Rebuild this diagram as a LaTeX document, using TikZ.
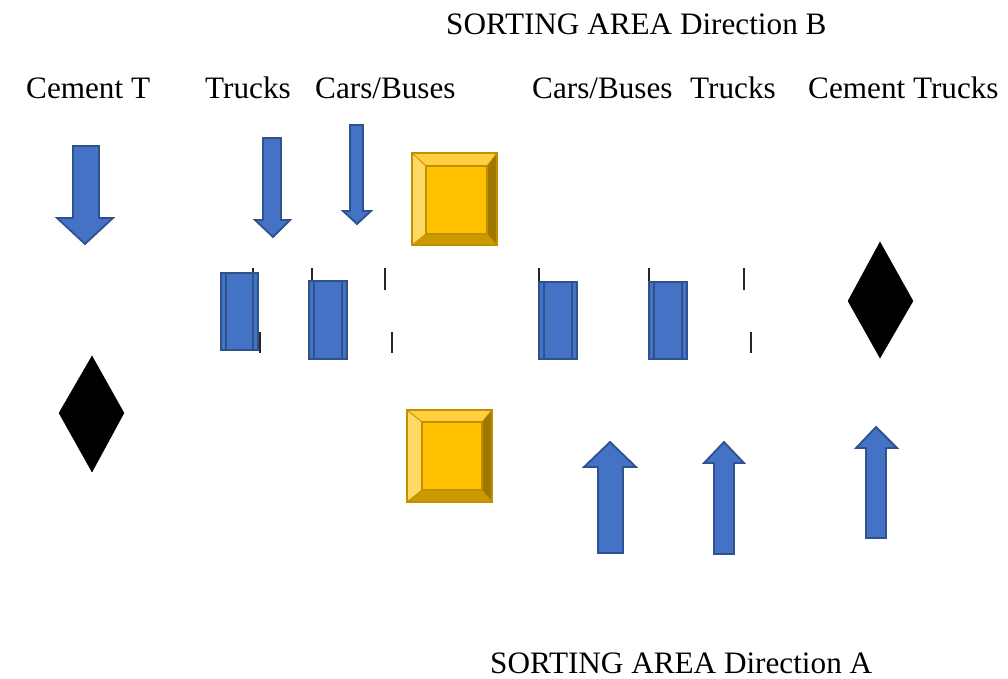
\documentclass[tikz,border=0pt]{standalone}
\usepackage{fontspec}
\setmainfont{Liberation Serif}
\definecolor{abfill}{HTML}{4472C4}
\definecolor{abdraw}{HTML}{2F528F}
\definecolor{ygold}{HTML}{FFC000}
\definecolor{ylight}{HTML}{FFD966}
\definecolor{ytop}{HTML}{FFCF40}
\definecolor{ydark}{HTML}{9E7700}
\definecolor{ybot}{HTML}{CC9A00}
\definecolor{yedge}{HTML}{BF9000}
\tikzset{
  lbl/.style={inner sep=0pt, anchor=base west, font=\fontsize{31.2}{34}\selectfont},
  blockarrow/.style={fill=abfill, draw=abdraw, line width=1.8pt, line join=miter},
  bar/.style={fill=abfill, draw=abdraw, line width=1.8pt},
  barline/.style={draw=abdraw, line width=1.2pt},
  tick/.style={draw=black!85, line width=1.6pt},
  dia/.style={fill=black, draw=black},
}
\newcommand{\bevelbox}[8]{%
  \fill[ytop] (#1,#2) -- (#3,#2) -- (#7,#6) -- (#5,#6) -- cycle;
  \fill[ylight] (#1,#2) -- (#5,#6) -- (#5,#8) -- (#1,#4) -- cycle;
  \fill[ydark] (#3,#2) -- (#3,#4) -- (#7,#8) -- (#7,#6) -- cycle;
  \fill[ybot] (#1,#4) -- (#5,#8) -- (#7,#8) -- (#3,#4) -- cycle;
  \fill[ygold] (#5,#6) rectangle (#7,#8);
  \draw[yedge, line width=1.2pt] (#1,#2) rectangle (#3,#4);
  \draw[yedge, line width=1.2pt] (#5,#6) rectangle (#7,#8);
  \draw[yedge, line width=0.8pt] (#1,#2) -- (#5,#6) (#3,#2) -- (#7,#6) (#1,#4) -- (#5,#8) (#3,#4) -- (#7,#8);
}
\begin{document}
\begin{tikzpicture}[x=1pt, y=-1pt]
\useasboundingbox (0,0) rectangle (1008,679);

% labels
\node[lbl] (titleB) at (446,35) {SORTING AREA Direction B};
\node[lbl] (l1) at (26,99) {Cement T};
\node[lbl] (l2) at (205,99) {Trucks};
\node[lbl] (l3) at (315,99) {Cars/Buses};
\node[lbl] (l4) at (532,99) {Cars/Buses};
\node[lbl] (l5) at (690,99) {Trucks};
\node[lbl] (l6) at (808,99) {Cement Trucks};
\node[lbl] (titleA) at (490,673) {SORTING AREA Direction A};

% down arrows
\draw[blockarrow] (73,146) -- (99,146) -- (99,218) -- (113,218) -- (85,244) -- (57,218) -- (73,218) -- cycle;
\draw[blockarrow] (263,138) -- (281,138) -- (281,220) -- (290,220) -- (273,237) -- (255,220) -- (263,220) -- cycle;
\draw[blockarrow] (350,125) -- (363,125) -- (363,211) -- (371,211) -- (357,224) -- (343,211) -- (350,211) -- cycle;

% up arrows
\draw[blockarrow] (598,553) -- (623,553) -- (623,467) -- (636,467) -- (610,442) -- (584,467) -- (598,467) -- cycle;
\draw[blockarrow] (714,554) -- (734,554) -- (734,463) -- (744,463) -- (724,442) -- (704,463) -- (714,463) -- cycle;
\draw[blockarrow] (866,538) -- (886,538) -- (886,448) -- (897,448) -- (876,427) -- (856,448) -- (866,448) -- cycle;

% diamonds
\fill[dia] (92,356) -- (124,413) -- (92,472) -- (59,413) -- cycle;
\fill[dia] (880,242) -- (913,301) -- (880,358) -- (848,301) -- cycle;

% ticks
\foreach \x in {253,312,385,539,649,744} \draw[tick] (\x,268) -- (\x,290);
\foreach \x in {260,319,392,539,649,751} \draw[tick] (\x,332) -- (\x,353);

% bars
\foreach \xa/\ya/\xb/\yb in {221/273/258/350, 309/281/347/359, 539/282/577/359, 649/282/687/359}{
  \draw[bar] (\xa,\ya) rectangle (\xb,\yb);
  \draw[barline] (\xa+5,\ya) -- (\xa+5,\yb) (\xb-5,\ya) -- (\xb-5,\yb);
}

% yellow bevel boxes
\bevelbox{412}{153}{497}{245}{426}{166}{487}{234}
\bevelbox{407}{410}{492}{502}{422}{422}{482}{490}
\end{tikzpicture}
\end{document}
